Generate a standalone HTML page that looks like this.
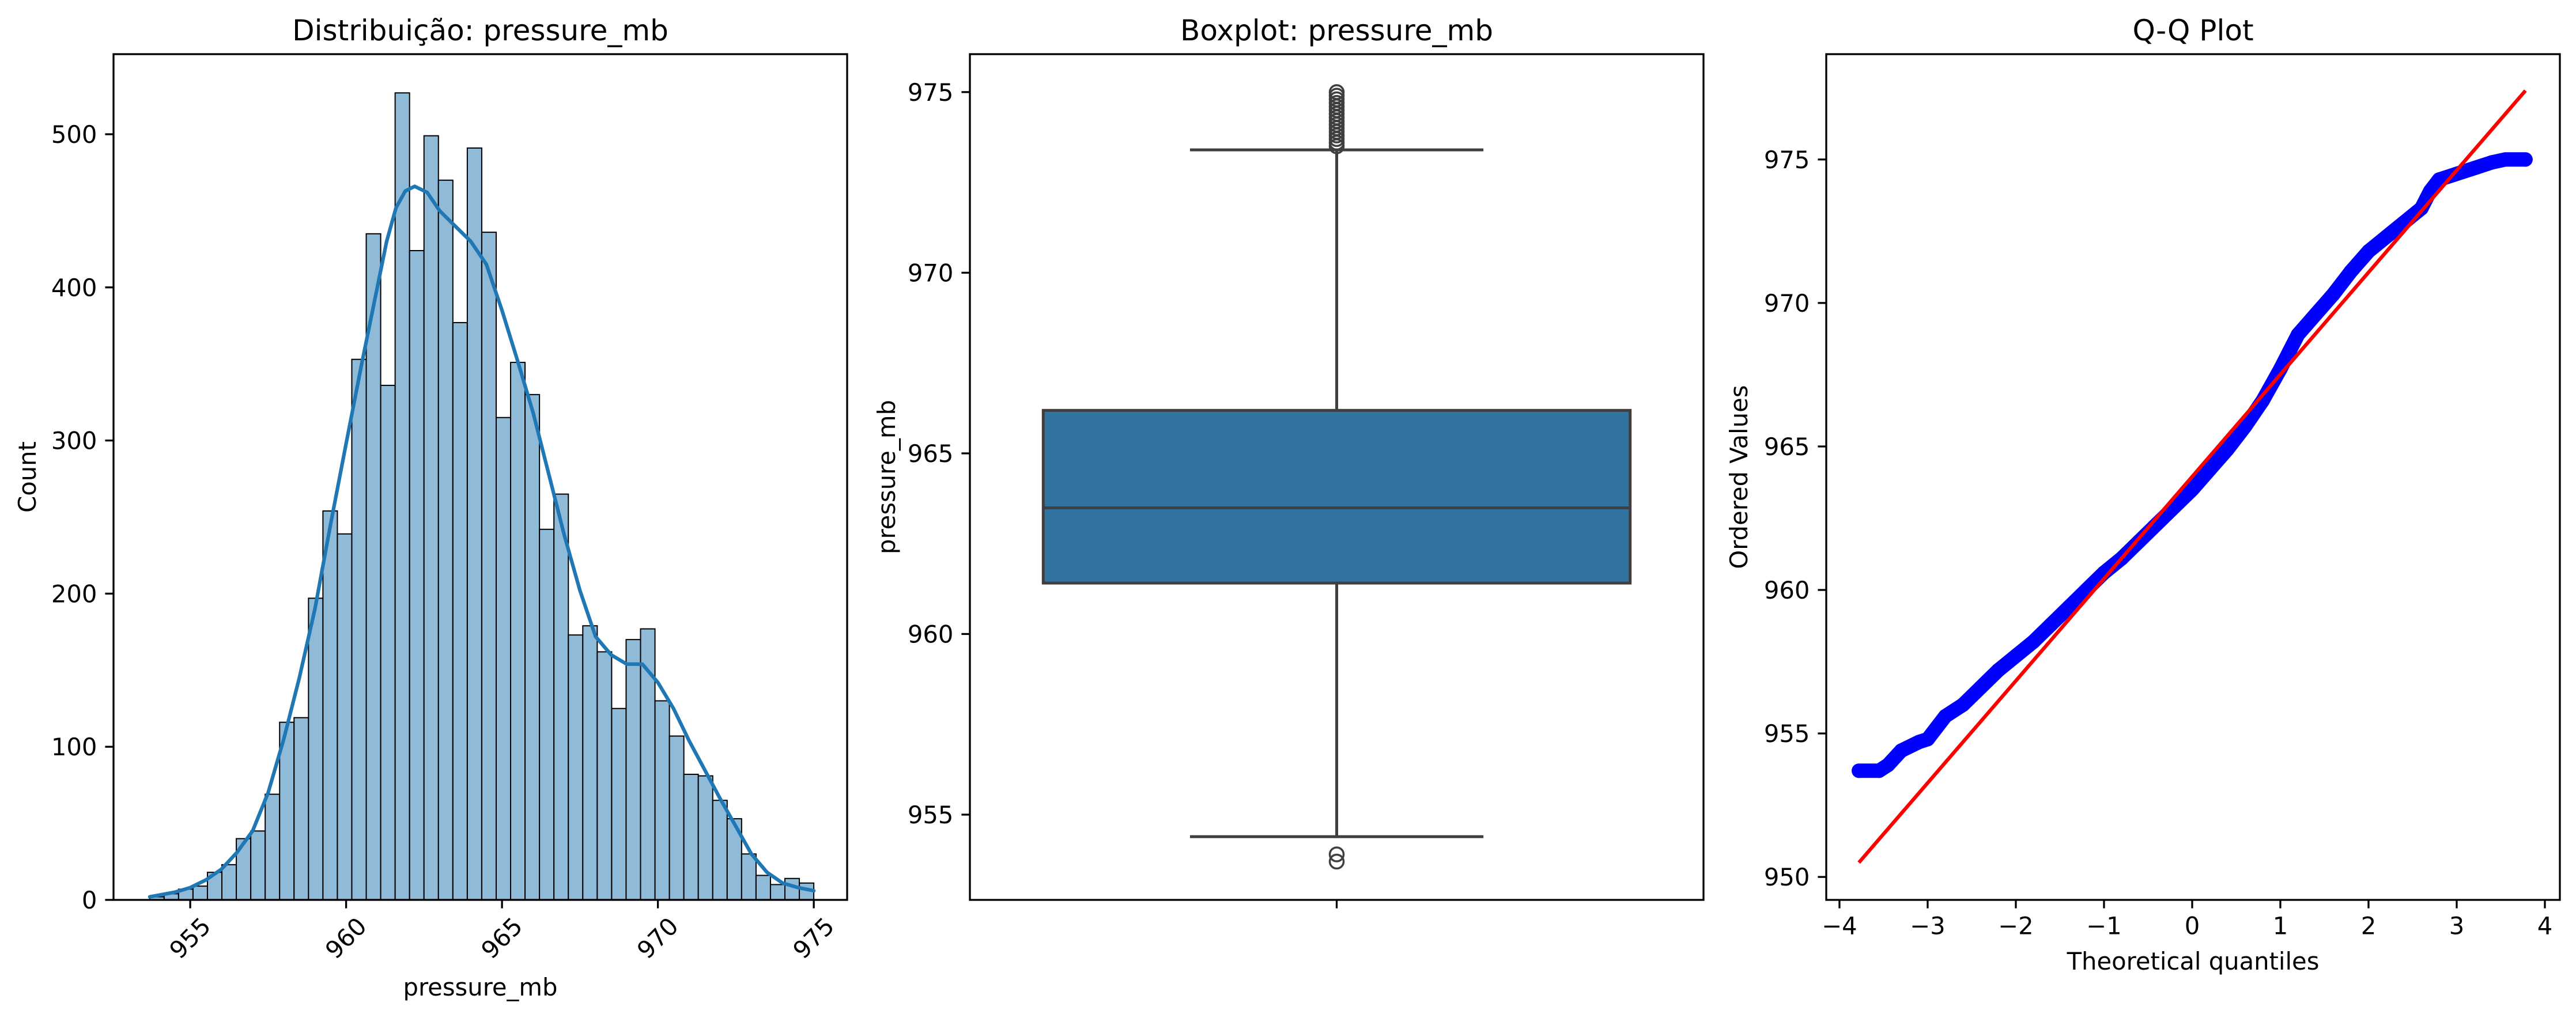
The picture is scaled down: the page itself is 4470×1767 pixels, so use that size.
<!DOCTYPE html>
<html><head><meta charset="utf-8"><style>
html,body{margin:0;padding:0;background:#fff}
svg{display:block}
text{font-family:"DejaVu Sans","Liberation Sans",sans-serif;fill:#000}
</style></head><body>
<svg id="fig" width="4470" height="1767" viewBox="0 0 4470 1767" xmlns="http://www.w3.org/2000/svg"></svg>
<script>
// ---- Histogram data ----
const histBinStart = 953.7;
const histBinEnd = 975.0;
const histCounts = [2,4,7,9,18,23,40,45,69,116,119,197,254,239,353,435,336,527,424,499,470,377,491,436,315,351,330,242,265,173,179,162,125,170,177,130,107,82,81,65,53,30,16,10,14,11];
const kdeX = [953.7,954.5,955,955.5,956,956.5,957,957.5,958,958.5,959,959.5,960,960.5,961,961.3,961.6,961.9,962.2,962.6,963,963.5,964,964.5,965,965.5,966,966.5,967,967.5,968,968.5,969,969.5,970,970.5,971,971.5,972,972.5,973,973.5,974,974.5,975];
const kdeY = [2,5,8,13,20,31,45,70,105,145,190,245,298,350,400,430,452,463,466,462,450,440,430,415,385,352,318,278,238,202,172,160,154,154,142,125,104,85,66,48,30,18,11,8,6];
const histXTicks = [955,960,965,970,975];
const histYTicks = [0,100,200,300,400,500];
// ---- Boxplot data ----
const boxQ1 = 961.41, boxMedian = 963.49, boxQ3 = 966.19;
const boxWhiskerLow = 954.39, boxWhiskerHigh = 973.40;
const boxOutliers = [953.7,953.9,973.5,973.6,973.7,973.8,973.9,974.0,974.1,974.2,974.3,974.4,974.5,974.6,974.7,974.8,974.9,975.0];
const boxYTicks = [955,960,965,970,975];
// ---- Q-Q data ----
const qqTheo = [-3.78,-3.55,-3.45,-3.3,-3.1,-3.0,-2.9,-2.8,-2.6,-2.4,-2.2,-2.0,-1.8,-1.6,-1.4,-1.2,-1.0,-0.8,-0.6,-0.4,-0.2,0,0.2,0.4,0.6,0.8,1.0,1.1,1.2,1.4,1.6,1.8,2.0,2.2,2.4,2.6,2.7,2.8,3.0,3.2,3.4,3.55,3.78];
const qqOrdered = [953.7,953.7,953.9,954.4,954.7,954.8,955.2,955.6,956.0,956.6,957.2,957.7,958.2,958.8,959.4,960.0,960.6,961.1,961.7,962.3,962.9,963.5,964.2,964.9,965.7,966.6,967.7,968.3,968.9,969.6,970.3,971.1,971.8,972.3,972.8,973.3,973.9,974.3,974.5,974.7,974.9,975.0,975.0];
const qqLineX = [-3.78,3.78];
const qqLineY = [950.5,977.4];
const qqXTicks = [-4,-3,-2,-1,0,1,2,3,4];
const qqXLabels = ['\u22124','\u22123','\u22122','\u22121','0','1','2','3','4'];
const qqYTicks = [950,955,960,965,970,975];

const NS='http://www.w3.org/2000/svg';
const svg=document.getElementById('fig');
function mk(tag,attrs,parent){const e=document.createElementNS(NS,tag);for(const k in attrs)e.setAttribute(k,attrs[k]);(parent||svg).appendChild(e);return e;}
const TOP=94,BOT=1562,W=1273,FS=41.7,TL=14.6;
const panels=[197,1683,3169];

function frame(L,g){
  const r=mk('rect',{x:L,y:TOP,width:W,height:BOT-TOP,fill:'none',stroke:'#000','stroke-width':3.3},g);
  
  
}
function yAxis(L,g,ticks,ys,labels){
  ticks.forEach((t,i)=>{
    const y=ys(t);
    const l=mk('line',{x1:L-TL,x2:L,y1:y,y2:y,stroke:'#000','stroke-width':3.3},g);
    
    
    const tx=mk('text',{x:L-TL-14,y:y+15,'font-size':FS,'text-anchor':'end'},g);
    
    
    tx.textContent=labels?labels[i]:String(t);
  });
}
function title(L,g,s){
  const t=mk('text',{x:L+W/2,y:70,'font-size':50,'text-anchor':'middle'},g);
  
  
  t.textContent=s;
}
function ylabel(x,g,s){
  const t=mk('text',{x:x,y:(TOP+BOT)/2,'font-size':FS,'text-anchor':'middle',transform:`rotate(-90 ${x} ${(TOP+BOT)/2})`},g);
  
  
  t.textContent=s;
}
function xlabel(L,y,g,s){
  const t=mk('text',{x:L+W/2,y:y,'font-size':FS,'text-anchor':'middle'},g);
  
  
  t.textContent=s;
}

// ===== Panel 1: histogram =====
(function(){
  const L=panels[0];
  const g=mk('g',{});
  
  
  const x0=952.54,x1=976.07,y0=0,y1=552.3;
  const xs=v=>L+(v-x0)/(x1-x0)*W;
  const ys=v=>BOT-(v-y0)/(y1-y0)*(BOT-TOP);
  const bw=(histBinEnd-histBinStart)/histCounts.length;
  histCounts.forEach((c,i)=>{
    const a=xs(histBinStart+i*bw),b=xs(histBinStart+(i+1)*bw);
    const r=mk('rect',{x:a,y:ys(c),width:b-a,height:ys(0)-ys(c),fill:'#8fbbd9',stroke:'#000','stroke-width':2},g);
    
    
  });
  let d='';
  kdeX.forEach((v,i)=>{d+=(i?'L':'M')+xs(v).toFixed(1)+','+ys(kdeY[i]).toFixed(1);});
  const p=mk('path',{d:d,fill:'none',stroke:'#1f77b4','stroke-width':6.25,'stroke-linejoin':'round','stroke-linecap':'round'},g);
  
  
  frame(L,g);
  yAxis(L,g,histYTicks,ys);
  histXTicks.forEach(t=>{
    const x=xs(t);
    const l=mk('line',{x1:x,x2:x,y1:BOT,y2:BOT+TL,stroke:'#000','stroke-width':3.3},g);
    
    
    const cy=BOT+TL+14+38;
    const tx=mk('text',{x:x,y:cy+14,'font-size':FS,'text-anchor':'middle',transform:`rotate(-45 ${x} ${cy})`},g);
    
    
    tx.textContent=String(t);
  });
  title(L,g,'Distribuição: pressure_mb');
  ylabel(62,g,'Count');
  xlabel(L,1728,g,'pressure_mb');
})();

// ===== Panel 2: boxplot =====
(function(){
  const L=panels[1];
  const g=mk('g',{});
  
  
  const y0=952.64,y1=976.05;
  const ys=v=>BOT-(v-y0)/(y1-y0)*(BOT-TOP);
  const cx=L+W/2, bw=W*0.8, cw=W*0.4;
  const st={stroke:'#3f3f3f','stroke-width':5};
  let e=mk('line',Object.assign({x1:cx,x2:cx,y1:ys(boxQ3),y2:ys(boxWhiskerHigh)},st),g);
  
  
  e=mk('line',Object.assign({x1:cx,x2:cx,y1:ys(boxQ1),y2:ys(boxWhiskerLow)},st),g);
  
  
  e=mk('line',Object.assign({x1:cx-cw/2,x2:cx+cw/2,y1:ys(boxWhiskerHigh),y2:ys(boxWhiskerHigh)},st),g);
  
  
  e=mk('line',Object.assign({x1:cx-cw/2,x2:cx+cw/2,y1:ys(boxWhiskerLow),y2:ys(boxWhiskerLow)},st),g);
  
  
  e=mk('rect',Object.assign({x:cx-bw/2,y:ys(boxQ3),width:bw,height:ys(boxQ1)-ys(boxQ3),fill:'#3274a1'},st),g);
  
  
  e=mk('line',Object.assign({x1:cx-bw/2,x2:cx+bw/2,y1:ys(boxMedian),y2:ys(boxMedian)},st),g);
  
  
  boxOutliers.forEach(v=>{
    const c=mk('circle',{cx:cx,cy:ys(v),r:12,fill:'none',stroke:'#3f3f3f','stroke-width':3.5},g);
    
    
  });
  frame(L,g);
  yAxis(L,g,boxYTicks,ys);
  e=mk('line',{x1:cx,x2:cx,y1:BOT,y2:BOT+TL,stroke:'#000','stroke-width':3.3},g);
  
  
  title(L,g,'Boxplot: pressure_mb');
  ylabel(1553,g,'pressure_mb');
})();

// ===== Panel 3: Q-Q plot =====
(function(){
  const L=panels[2];
  const g=mk('g',{});
  
  
  const x0=-4.15,x1=4.17,y0=949.2,y1=978.67;
  const xs=v=>L+(v-x0)/(x1-x0)*W;
  const ys=v=>BOT-(v-y0)/(y1-y0)*(BOT-TOP);
  let d='';
  qqTheo.forEach((v,i)=>{d+=(i?'L':'M')+xs(v).toFixed(1)+','+ys(qqOrdered[i]).toFixed(1);});
  const p=mk('path',{d:d,fill:'none',stroke:'#0000ff','stroke-width':25,'stroke-linejoin':'round','stroke-linecap':'round'},g);
  
  
  qqTheo.forEach((v,i)=>{
    const c=mk('circle',{cx:xs(v),cy:ys(qqOrdered[i]),r:12.5,fill:'#0000ff'},g);
    
    
  });
  const ln=mk('line',{x1:xs(qqLineX[0]),y1:ys(qqLineY[0]),x2:xs(qqLineX[1]),y2:ys(qqLineY[1]),stroke:'#ff0000','stroke-width':6.25},g);
  
  
  frame(L,g);
  yAxis(L,g,qqYTicks,ys);
  qqXTicks.forEach((t,i)=>{
    const x=xs(t);
    const l=mk('line',{x1:x,x2:x,y1:BOT,y2:BOT+TL,stroke:'#000','stroke-width':3.3},g);
    
    
    const tx=mk('text',{x:x,y:BOT+TL+14+31,'font-size':FS,'text-anchor':'middle'},g);
    
    
    tx.textContent=qqXLabels[i];
  });
  title(L,g,'Q-Q Plot');
  ylabel(3032,g,'Ordered Values');
  xlabel(L,1683,g,'Theoretical quantiles');
})();
</script>
</body></html>
